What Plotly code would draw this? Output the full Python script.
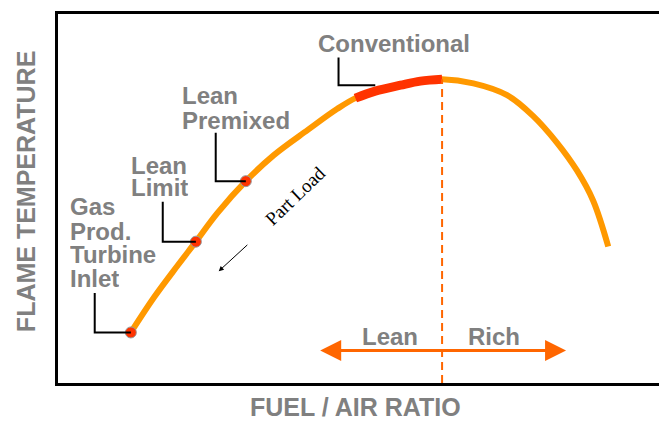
import plotly.graph_objects as go

# flame temperature curve (relative units 0-100)
fuel_air_ratio = [12.1, 15.9, 19.9, 22.9, 26.5, 31.2, 35.8, 41.5, 46.4, 49.4, 52.7, 56.9, 60.2, 63.8,
                  69.0, 74.6, 78.9, 82.9, 86.2, 88.9, 91.4]
flame_temp = [13.7, 23.1, 31.9, 38.3, 46.1, 54.7, 61.7, 68.6, 74.3, 77.2, 79.1, 80.7, 81.8, 82.3,
              81.2, 78.0, 72.4, 65.1, 57.6, 49.4, 37.0]

# operating points marked on the curve
point_x = [12.1, 22.9, 31.2]
point_y = [13.7, 38.3, 54.7]

# "Conventional" band runs from this ratio up to the stoichiometric peak
conv_start = 49.4
stoich_x = 63.8

grey = '#808080'
label_font = dict(family='Liberation Sans, Arial', size=24, color=grey)

fig = go.Figure()

fig.add_trace(go.Scatter(
    x=fuel_air_ratio, y=flame_temp, mode='lines',
    line=dict(color='#ff9900', width=6, shape='spline'),
    hoverinfo='skip'
))

conv_x = [x for x in fuel_air_ratio if conv_start <= x <= stoich_x]
conv_y = [y for x, y in zip(fuel_air_ratio, flame_temp) if conv_start <= x <= stoich_x]
fig.add_trace(go.Scatter(
    x=conv_x, y=conv_y, mode='lines',
    line=dict(color='#ff3300', width=9, shape='spline'),
    hoverinfo='skip'
))

fig.add_trace(go.Scatter(
    x=point_x, y=point_y, mode='markers',
    marker=dict(color='#ff3300', size=11, line=dict(color='#999999', width=1)),
    hoverinfo='skip'
))

# stoichiometric dashed line
fig.add_shape(type='line', x0=stoich_x, x1=stoich_x, y0=0, y1=max(flame_temp),
              line=dict(color='#ff6600', width=2, dash='8px,5px'))

# leader lines from labels to points
leaders = [
    (46.6, 88.2, 80.7, 52.7),   # Conventional
    (26.2, 67.8, 54.7, 31.2),   # Lean Premixed
    (17.4, 49.1, 38.3, 22.9),   # Lean Limit
    (6.1, 24.4, 13.7, 12.1),    # Gas Prod. Turbine Inlet
]
for lx, ly_top, ly_bot, lx_end in leaders:
    fig.add_shape(type='path',
                  path=f'M {lx},{ly_top} L {lx},{ly_bot} L {lx_end},{ly_bot}',
                  line=dict(color='black', width=2))

# grey labels, one line each (tight line spacing like the original)
labels = [
    ('Conventional', 43.1, 92.2),
    ('Lean', 20.4, 78.0), ('Premixed', 20.4, 71.3),
    ('Lean', 11.9, 59.2), ('Limit', 11.9, 53.1),
    ('Gas', 1.8, 48.0), ('Prod.', 1.8, 41.3), ('Turbine', 1.8, 34.9), ('Inlet', 1.8, 28.4),
]
for text, x, y in labels:
    fig.add_annotation(x=x, y=y, text='<b>' + text + '</b>', showarrow=False,
                       xanchor='left', yanchor='middle', height=22, borderpad=0,
                       font=label_font)

# lean / rich arrow
fig.add_annotation(x=84.4, y=8.8, ax=43.3, ay=8.8, axref='x', ayref='y', text='',
                   showarrow=True, arrowside='end+start', arrowhead=2, arrowsize=1.4,
                   arrowwidth=3, arrowcolor='#ff6600', standoff=0, startstandoff=0)
fig.add_annotation(x=55.1, y=12.6, text='<b>Lean</b>', showarrow=False, font=label_font)
fig.add_annotation(x=72.5, y=12.6, text='<b>Rich</b>', showarrow=False, font=label_font)

# part load
fig.add_annotation(x=26.7, y=30.3, ax=31.7, ay=37.8, axref='x', ayref='y', text='',
                   showarrow=True, arrowhead=2, arrowsize=1, arrowwidth=1, arrowcolor='black',
                   standoff=0)
fig.add_annotation(x=39.5, y=50.7, text='Part Load', showarrow=False, textangle=-44,
                   font=dict(family='Liberation Serif, Times New Roman', size=19, color='black'))

# axis titles
title_font = dict(family='Liberation Sans, Arial', size=25, color=grey)
fig.add_annotation(xref='paper', yref='paper', x=-0.053, y=0.5175, text='<b>FLAME TEMPERATURE</b>',
                   textangle=-90, showarrow=False, xanchor='center', yanchor='middle', font=title_font)
fig.add_annotation(xref='paper', yref='paper', x=0.495, y=-0.066, text='<b>FUEL / AIR RATIO</b>',
                   showarrow=False, xanchor='center', yanchor='middle', font=title_font)

fig.update_xaxes(range=[0, 100], showgrid=False, zeroline=False, showticklabels=False, ticks='',
                 showline=True, linecolor='black', linewidth=3, mirror=True)
fig.update_yaxes(range=[0, 100], showgrid=False, zeroline=False, showticklabels=False, ticks='',
                 showline=True, linecolor='black', linewidth=3, mirror=True)

# page body keeps its default 8px margin, so the figure is sized to fit the window
fig.update_layout(
    width=659, height=413,
    margin=dict(l=50, r=7, t=3, b=38),
    paper_bgcolor='white', plot_bgcolor='white',
    showlegend=False,
)

fig.write_html("out.html")
